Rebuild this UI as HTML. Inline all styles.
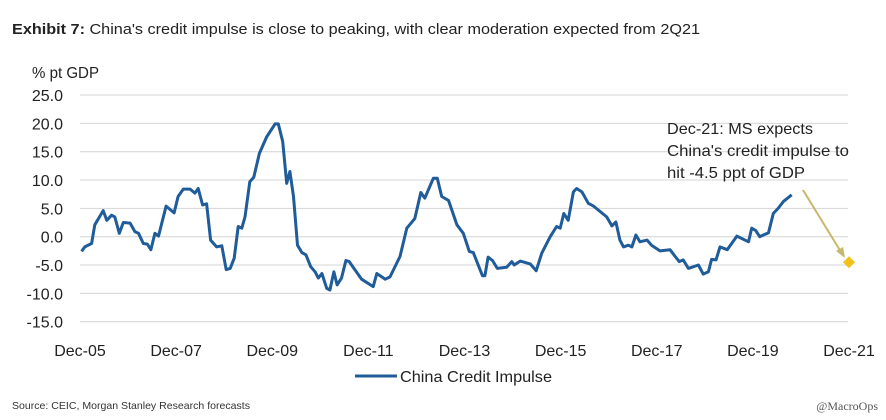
<!DOCTYPE html>
<html><head><meta charset="utf-8"><style>
body{margin:0;background:#fff;}
svg{display:block;font-family:"Liberation Sans",sans-serif;}
</style></head><body>
<svg id="c" width="886" height="420" xmlns="http://www.w3.org/2000/svg">
<text x="12" y="34" font-size="15" fill="#222" textLength="688" lengthAdjust="spacingAndGlyphs"><tspan font-weight="bold">Exhibit 7:</tspan>  China's credit impulse is close to peaking, with clear moderation expected from 2Q21</text>
<text x="32" y="78" font-size="16" fill="#222" textLength="67" lengthAdjust="spacingAndGlyphs">% pt GDP</text>
<g id="grid"></g><g id="ylab"></g><g id="xlab"></g>
<path id="line" fill="none" stroke="#1F5C99" stroke-width="3" stroke-linejoin="round"/>
<line x1="803" y1="190" x2="841" y2="252" stroke="#C8B76A" stroke-width="2"/>
<polygon points="845,258 836,251 843,247" fill="#C8B76A"/>
<polygon id="dia" fill="#F2C21A"/>
<g font-size="16" fill="#222">
<text x="667" y="134" textLength="146" lengthAdjust="spacingAndGlyphs">Dec-21: MS expects</text>
<text x="667" y="156" textLength="182" lengthAdjust="spacingAndGlyphs">China's credit impulse to</text>
<text x="667" y="178" textLength="138" lengthAdjust="spacingAndGlyphs">hit -4.5 ppt of GDP</text>
</g>
<line x1="355" y1="376" x2="397" y2="376" stroke="#1F5C99" stroke-width="3"/>
<text x="400" y="382" font-size="16" fill="#222" textLength="152" lengthAdjust="spacingAndGlyphs">China Credit Impulse</text>
<text x="12" y="409" font-size="10.5" fill="#333" textLength="238" lengthAdjust="spacingAndGlyphs">Source: CEIC, Morgan Stanley Research forecasts</text>
<text x="878" y="410" font-size="12" fill="#555" text-anchor="end" font-family="Liberation Serif,serif">@MacroOps</text>
</svg>
<script>
const yTicks=[25,20,15,10,5,0,-5,-10,-15];
const xTickLabels=["Dec-05","Dec-07","Dec-09","Dec-11","Dec-13","Dec-15","Dec-17","Dec-19","Dec-21"];
const xTickMonths=[0,24,48,72,96,120,144,168,192];
const months=[0.4,1.2,2.9,3.7,5.8,6.7,7.9,8.7,9.8,10.8,12.5,13.7,14.6,15.8,16.8,17.7,18.7,19.6,21.5,23.5,24.5,25.8,27.5,28.7,29.5,30.6,31.6,32.6,34.1,35.4,36.5,37.5,38.5,39.5,40.4,41.2,42.4,43.4,44.8,46.6,48.7,49.5,50.6,51.6,52.4,53.3,54.3,55.4,56.4,57.6,58.7,59.5,60.4,61.6,62.4,63.4,64.2,65.3,66.4,67.2,70.3,73.2,74.1,76.2,77.4,79.9,81.6,83.6,85.1,86.1,88.2,89.2,90.3,92,94.1,95.7,97.2,98.2,100.5,101.1,101.9,103,104.2,106.5,107.8,108.4,109.9,112.4,113.9,115.3,117.4,119,119.9,120.8,121.9,123.2,124,125.3,126.9,128.2,131.5,132.8,133.8,134.8,135.7,136.9,137.8,138.8,139.8,141.6,142.7,144.8,147.3,148.6,149.6,150.6,151.9,154.4,155.6,156.9,157.7,158.8,159.8,161.6,164,166.9,167.7,168.7,169.7,171.9,173.1,174.3,175.6,177.7];
const values=[-2.6,-1.8,-1.2,2.1,4.6,2.9,3.8,3.5,0.6,2.5,2.4,0.9,0.6,-1.2,-1.3,-2.3,0.6,0.1,5.4,4.2,7.1,8.4,8.4,7.7,8.5,5.6,5.8,-0.6,-1.8,-1.6,-5.8,-5.6,-3.8,1.8,1.5,3.5,9.7,10.5,14.7,17.6,19.9,19.9,16.8,9.4,11.5,7.1,-1.5,-2.8,-3.2,-5.3,-6.2,-7.3,-6.5,-9.1,-9.4,-6.2,-8.5,-7.3,-4.2,-4.4,-7.5,-8.8,-6.5,-7.5,-7.1,-3.5,1.5,3.2,7.8,6.8,10.3,10.3,7.1,6.4,2.1,0.6,-2.6,-2.8,-6.9,-6.9,-3.6,-4.2,-5.6,-5.4,-4.4,-5.0,-4.3,-4.8,-6.0,-2.9,0,1.8,1.5,4.1,2.9,7.9,8.5,7.9,5.9,5.4,3.5,1.9,2.6,-0.6,-1.8,-1.5,-1.8,0.3,-0.9,-0.6,-1.5,-2.5,-2.3,-3.5,-4.4,-4.1,-5.6,-5.0,-6.6,-6.2,-4.0,-4.1,-1.8,-2.3,0.1,-0.9,1.5,1.1,0,0.7,4.1,5.0,6.2,7.4,8.7];
const forecastMonth=[192];
const forecastValue=[-4.5];
const NS='http://www.w3.org/2000/svg';
const X=m=>80+m*(849-80)/192;
const Y=v=>236.7-v*5.667;
const grid=document.getElementById('grid'),yl=document.getElementById('ylab'),xl=document.getElementById('xlab');
yTicks.forEach(t=>{
 const l=document.createElementNS(NS,'line');
 l.setAttribute('x1',80);l.setAttribute('x2',848);l.setAttribute('y1',Y(t));l.setAttribute('y2',Y(t));
 l.setAttribute('stroke','#d4d4d4');l.setAttribute('stroke-width','1');
 
 
 grid.appendChild(l);
 const tx=document.createElementNS(NS,'text');
 tx.setAttribute('x',63);tx.setAttribute('y',Y(t)+6);tx.setAttribute('text-anchor','end');tx.setAttribute('font-size','16');tx.setAttribute('fill','#222');
 tx.textContent=t.toFixed(1);
 
 
 yl.appendChild(tx);
});
xTickLabels.forEach((s,i)=>{
 const tx=document.createElementNS(NS,'text');
 tx.setAttribute('x',X(xTickMonths[i]));tx.setAttribute('y',356);tx.setAttribute('text-anchor','middle');tx.setAttribute('font-size','16');tx.setAttribute('fill','#222');
 tx.textContent=s;
 
 
 xl.appendChild(tx);
});
document.getElementById('line').setAttribute('d',months.map((m,i)=>(i?'L':'M')+X(m).toFixed(1)+' '+Y(values[i]).toFixed(1)).join(''));
const dx=X(forecastMonth[0]),dy=Y(forecastValue[0]);
document.getElementById('dia').setAttribute('points',`${dx},${dy-6} ${dx+6},${dy} ${dx},${dy+6} ${dx-6},${dy}`);
</script>
</body></html>
